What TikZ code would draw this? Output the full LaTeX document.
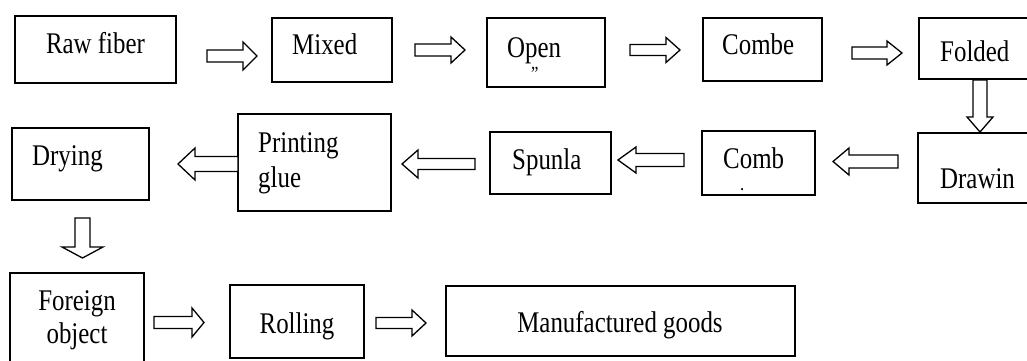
\documentclass[tikz,border=0pt]{standalone}
\usepackage{fontspec}
\setmainfont[FakeStretch=0.83]{Liberation Serif}
\usetikzlibrary{calc}
\newcommand{\blockarrow}[5]{%
  \coordinate (ba-b) at ($(#2)!#5!(#1)$);
  \draw[barrow] ($(#1)!#3!90:(#2)$) -- ($(ba-b)!#3!90:(#2)$) -- ($(ba-b)!#4!90:(#2)$) -- (#2)
     -- ($(ba-b)!#4!-90:(#2)$) -- ($(ba-b)!#3!-90:(#2)$) -- ($(#1)!#3!-90:(#2)$) -- cycle;
}
\newcommand{\boxnode}[5]{% name, x1, y1, x2, y2
  \pgfmathsetmacro{\bw}{#4-#2}\pgfmathsetmacro{\bh}{#5-#3}%
  \node[box, minimum width=\bw pt, minimum height=\bh pt, anchor=north west] (#1) at (#2,#3) {};
}
\begin{document}
\begin{tikzpicture}[x=1pt,y=-1pt,
  box/.style={draw=black, line width=1.4pt, fill=white, inner sep=0pt, outer sep=0pt},
  txt/.style={inner sep=0pt, font=\fontsize{30}{34}\selectfont},
  smallmark/.style={inner sep=0pt, font=\fontsize{20}{20}\selectfont},
  barrow/.style={draw=black, line width=1.3pt, fill=white, line join=miter}]
\useasboundingbox (0,0) rectangle (1027,361);
\fill[white] (0,0) rectangle (1027,361);
% boxes
\boxnode{raw}{15}{16}{176}{83}
\boxnode{mixed}{272}{18}{392}{82}
\boxnode{open}{487}{18}{605}{87}
\boxnode{combe}{703}{18}{822}{81}
\boxnode{folded}{919}{18}{1032}{79}
\boxnode{drawin}{918}{133}{1035}{203}
\boxnode{comb}{702}{131}{815}{195}
\boxnode{spunla}{490}{132}{611}{194}
\boxnode{printing}{238}{114}{391}{211}
\boxnode{drying}{12}{128}{149}{200}
\boxnode{foreign}{10}{273}{144}{372}
\boxnode{rolling}{230}{285}{364}{358}
\boxnode{goods}{446}{286}{795}{356}
% texts
\node[txt, anchor=base] (t-raw) at (95.5,53) {Raw fiber};
\node[txt, anchor=base west] (t-mixed) at (292,55) {Mixed};
\node[txt, anchor=base west] (t-open) at (507,57) {Open};
\node[smallmark, anchor=base west] (t-open2) at (531,80) {''};
\node[txt, anchor=base west] (t-combe) at (722,55) {Combe};
\node[txt, anchor=base west] (t-folded) at (940,62) {Folded};
\node[txt, anchor=base west] (t-drawin) at (940,188) {Drawin};
\node[txt, anchor=base west] (t-comb) at (723,168) {Comb};
\node[smallmark, anchor=base west] (t-comb2) at (740,190) {.};
\node[txt, anchor=base west] (t-spunla) at (512,169) {Spunla};
\node[txt, anchor=base west] (t-print1) at (258,152) {Printing};
\node[txt, anchor=base west] (t-print2) at (258,187) {glue};
\node[txt, anchor=base west] (t-drying) at (32,165) {Drying};
\node[txt, anchor=base] (t-foreign1) at (77,310) {Foreign};
\node[txt, anchor=base] (t-foreign2) at (77,343) {object};
\node[txt, anchor=base] (t-rolling) at (297,333) {Rolling};
\node[txt, anchor=base] (t-goods) at (620,332) {Manufactured goods};
% arrow end points
\coordinate (a1t) at (207,56);   \coordinate (a1h) at (257,56);
\coordinate (a2t) at (415,50);   \coordinate (a2h) at (465,50);
\coordinate (a3t) at (630,50);   \coordinate (a3h) at (680,50);
\coordinate (a4t) at (852,53);   \coordinate (a4h) at (902,53);
\coordinate (d1t) at (980,80);   \coordinate (d1h) at (980,132);
\coordinate (l1t) at (898,161.5);\coordinate (l1h) at (833,161.5);
\coordinate (l2t) at (684,160);  \coordinate (l2h) at (618,160);
\coordinate (l3t) at (475,164);  \coordinate (l3h) at (402,164);
\coordinate (l4t) at (238,164);  \coordinate (l4h) at (178,164);
\coordinate (d2t) at (82.5,218); \coordinate (d2h) at (82.5,258);
\coordinate (r5t) at (154,322.5);\coordinate (r5h) at (204,322.5);
\coordinate (r6t) at (376,323);  \coordinate (r6h) at (426,323);
\blockarrow{a1t}{a1h}{6pt}{14pt}{14pt}
\blockarrow{a2t}{a2h}{6pt}{13pt}{14pt}
\blockarrow{a3t}{a3h}{5.5pt}{12.5pt}{14pt}
\blockarrow{a4t}{a4h}{6pt}{12pt}{15pt}
\blockarrow{d1t}{d1h}{7pt}{13pt}{15pt}
\blockarrow{l1t}{l1h}{6.5pt}{13.5pt}{16pt}
\blockarrow{l2t}{l2h}{6.5pt}{13pt}{18pt}
\blockarrow{l3t}{l3h}{5.5pt}{14pt}{16pt}
\blockarrow{l4t}{l4h}{7.5pt}{16pt}{17pt}
\blockarrow{d2t}{d2h}{7.5pt}{20.5pt}{11pt}
\blockarrow{r5t}{r5h}{6pt}{14.5pt}{12pt}
\blockarrow{r6t}{r6h}{5.5pt}{13pt}{14pt}
\end{tikzpicture}
\end{document}
